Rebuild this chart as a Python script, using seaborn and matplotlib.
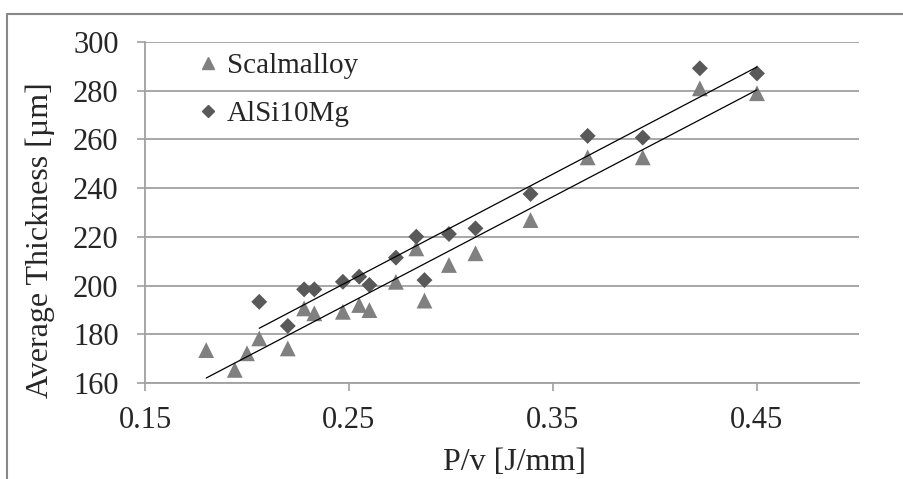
import matplotlib
matplotlib.use("Agg")
import matplotlib.pyplot as plt
import seaborn as sns
import pandas as pd
from matplotlib.lines import Line2D

# values
scal_pv = [0.180, 0.194, 0.200, 0.206, 0.220, 0.228, 0.233, 0.247, 0.255, 0.260,
           0.273, 0.283, 0.287, 0.299, 0.312, 0.339, 0.367, 0.394, 0.422, 0.450]
scal_thk = [173.6, 165.5, 172.3, 178.4, 174.3, 190.7, 188.7, 189.3, 192.1, 190.0,
            201.6, 215.3, 193.9, 208.5, 213.3, 226.9, 252.6, 252.6, 280.9, 278.9]
alsi_pv = [0.206, 0.220, 0.228, 0.233, 0.247, 0.255, 0.260, 0.273, 0.283, 0.287,
           0.299, 0.312, 0.339, 0.367, 0.394, 0.422, 0.450]
alsi_thk = [193.4, 183.5, 198.5, 198.5, 201.6, 203.7, 200.3, 211.5, 220.1, 202.3,
            221.2, 223.5, 237.6, 261.4, 260.7, 289.1, 287.0]
x_ticks = [0.15, 0.25, 0.35, 0.45]
y_ticks = [160, 180, 200, 220, 240, 260, 280, 300]

scal = pd.DataFrame({"pv": scal_pv, "thk": scal_thk})
alsi = pd.DataFrame({"pv": alsi_pv, "thk": alsi_thk})

sns.set_style("white")
plt.rcParams['font.family'] = ['Liberation Serif', 'DejaVu Serif']

fig = plt.figure(figsize=(9.04, 4.79), dpi=100)
ax = fig.add_axes([0.1604, 0.1998, 0.7898, 0.7131])

grid_col = "#a0a0a0"
scal_col = "#808080"
alsi_col = "#595959"

sns.scatterplot(data=scal, x="pv", y="thk", marker="^", s=130, color=scal_col,
                edgecolor="none", ax=ax, zorder=3)
sns.scatterplot(data=alsi, x="pv", y="thk", marker="D", s=66, color=alsi_col,
                edgecolor="none", ax=ax, zorder=3)
# linear trendlines
sns.regplot(data=scal, x="pv", y="thk", scatter=False, ci=None, ax=ax,
            line_kws={"color": "black", "lw": 0.9, "zorder": 4})
sns.regplot(data=alsi, x="pv", y="thk", scatter=False, ci=None, ax=ax,
            line_kws={"color": "black", "lw": 0.9, "zorder": 4})

ax.set_xlim(0.15, 0.50)
ax.set_ylim(160, 300)
ax.set_xticks(x_ticks)
ax.set_yticks(y_ticks)
ax.set_xticklabels([f"{t:.2f}" for t in x_ticks])
ax.yaxis.grid(True, color=grid_col, lw=1.3)
ax.xaxis.grid(False)
ax.set_axisbelow(True)
for side in ["top", "right"]:
    ax.spines[side].set_visible(False)
for side in ["left", "bottom"]:
    ax.spines[side].set_color(grid_col)
    ax.spines[side].set_linewidth(1.3)
ax.tick_params(axis="both", direction="out", length=6, width=1.2, color=grid_col,
               labelsize=22, bottom=True, left=True)
ax.tick_params(axis="x", pad=10)
ax.tick_params(axis="y", pad=13)

ax.set_xlabel("P/v [J/mm]", fontsize=23)
ax.set_ylabel("Average Thickness [µm]", fontsize=23)
ax.xaxis.set_label_coords(0.517, -0.19)
ax.yaxis.set_label_coords(-0.126, 0.42)

handles = [
    Line2D([], [], marker="^", ls="", color=scal_col, markersize=8, label="Scalmalloy"),
    Line2D([], [], marker="D", ls="", color=alsi_col, markersize=6, label="AlSi10Mg"),
]
ax.legend(handles=handles, loc="upper left", bbox_to_anchor=(0.039, 1.045),
          frameon=False, fontsize=21, handlelength=0.6, handletextpad=0.35,
          labelspacing=0.75)

# outer chart frame (cut off at right and bottom)
fig.add_artist(Line2D([7 / 904, 1.0], [1 - 14 / 479, 1 - 14 / 479], color="#888888", lw=1.5))
fig.add_artist(Line2D([7 / 904, 7 / 904], [1 - 14 / 479, 0.0], color="#888888", lw=1.5))

fig.savefig("out.png", dpi=100)
plt.close(fig)
